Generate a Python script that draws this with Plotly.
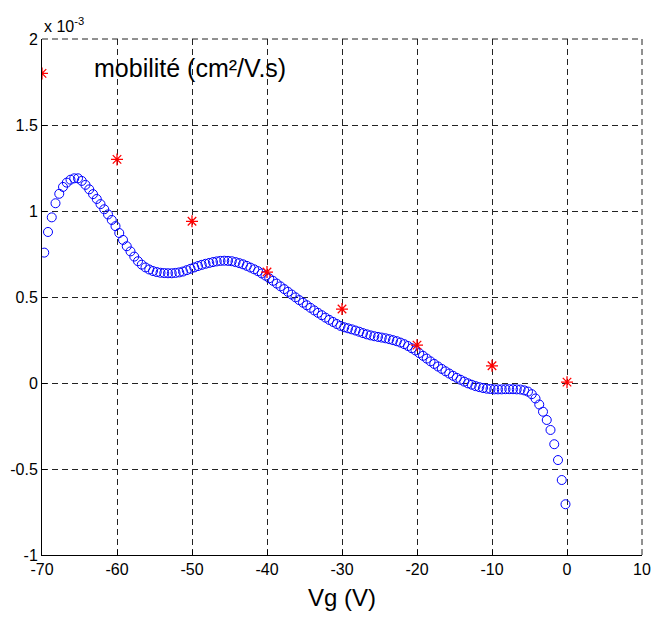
import plotly.graph_objects as go

# Vg sweep (V) for the measured mobility (circles)
vg_start = -69.7
vg_step = 0.5
mob_circles = [
    0.758, 0.878, 0.963, 1.045, 1.10, 1.14, 1.165, 1.182, 1.19, 1.19,
    1.175, 1.152, 1.126, 1.098, 1.07, 1.04, 1.01, 0.98, 0.948, 0.912,
    0.872, 0.832, 0.795, 0.765, 0.735, 0.708, 0.688, 0.672, 0.66, 0.651,
    0.645, 0.641, 0.639, 0.638, 0.638, 0.64, 0.643, 0.648, 0.656, 0.664,
    0.672, 0.68, 0.687, 0.693, 0.698, 0.703, 0.707, 0.71, 0.711, 0.71,
    0.708, 0.703, 0.697, 0.69, 0.681, 0.671, 0.661, 0.65, 0.637, 0.624,
    0.609, 0.594, 0.578, 0.562, 0.546, 0.53, 0.514, 0.498, 0.482, 0.467,
    0.452, 0.437, 0.422, 0.408, 0.394, 0.38, 0.367, 0.355, 0.343, 0.332,
    0.324, 0.318, 0.312, 0.305, 0.298, 0.29, 0.283, 0.277, 0.272, 0.268,
    0.264, 0.26, 0.255, 0.249, 0.243, 0.235, 0.226, 0.215, 0.202, 0.189,
    0.174, 0.158, 0.142, 0.126, 0.111, 0.096, 0.082, 0.068, 0.055, 0.042,
    0.03, 0.019, 0.008, -0.002, -0.01, -0.018, -0.024, -0.029, -0.033, -0.035,
    -0.037, -0.037, -0.037, -0.036, -0.036, -0.036, -0.037, -0.038, -0.043, -0.05,
    -0.065, -0.09, -0.125, -0.167, -0.215, -0.273, -0.356, -0.448, -0.564, -0.705,
]
vg_circles = [round(vg_start + vg_step * i, 2) for i in range(len(mob_circles))]

# Red star points
vg_stars = [-70, -60, -50, -40, -30, -20, -10, 0]
mob_stars = [1.80, 1.30, 0.94, 0.645, 0.43, 0.22, 0.10, 0.005]

x_ticks = [-70, -60, -50, -40, -30, -20, -10, 0, 10]
x_tick_text = ["-70", "-60", "-50", "-40", "-30", "-20", "-10", "0", "10"]
y_ticks = [-1, -0.5, 0, 0.5, 1, 1.5, 2]
y_tick_text = ["-1", "-0.5", "0", "0.5", "1", "1.5", "2"]

font = "Liberation Sans, Arial, sans-serif"
grid_color = "#222222"
grid_dash = "6px,4px"

fig = go.Figure()
fig.add_trace(go.Scatter(
    x=vg_circles, y=mob_circles, mode="markers",
    marker=dict(symbol="circle-open", size=9, color="#0000ff",
                line=dict(width=1, color="#0000ff")),
    showlegend=False, hoverinfo="x+y",
))
fig.add_trace(go.Scatter(
    x=vg_stars, y=mob_stars, mode="markers",
    marker=dict(symbol="asterisk-open", size=10, color="#ff0000",
                line=dict(width=1.3, color="#ff0000")),
    showlegend=False, hoverinfo="x+y",
))

axis_common = dict(
    showline=True, linecolor="black", linewidth=1,
    showgrid=True, gridcolor=grid_color, gridwidth=1, griddash=grid_dash,
    zeroline=False, ticks="inside", ticklen=5, tickcolor="black",
    tickfont=dict(family=font, size=16, color="black"),
    mirror=False, automargin=False,
)

fig.update_layout(
    width=652, height=617,
    margin=dict(l=42, r=10, t=39, b=62),
    paper_bgcolor="white", plot_bgcolor="white",
    xaxis=dict(range=[-70, 10], tickvals=x_ticks, ticktext=x_tick_text, **axis_common),
    yaxis=dict(range=[-1, 2], tickvals=y_ticks, ticktext=y_tick_text, **axis_common),
    shapes=[
        dict(type="line", xref="paper", yref="paper", x0=0, x1=1, y0=1, y1=1,
             line=dict(color=grid_color, width=1, dash=grid_dash), layer="above"),
        dict(type="line", xref="paper", yref="paper", x0=1, x1=1, y0=0, y1=1,
             line=dict(color=grid_color, width=1, dash=grid_dash), layer="above"),
    ],
    annotations=[
        dict(x=-63.3, y=1.83, xref="x", yref="y", text="mobilité (cm²/V.s)",
             showarrow=False, xanchor="left", yanchor="middle",
             font=dict(family=font, size=25, color="black")),
        dict(x=0.0, y=1.0, xref="paper", yref="paper",
             text="x 10<sup>-3</sup>", showarrow=False,
             xanchor="left", yanchor="bottom", yshift=2,
             font=dict(family=font, size=16, color="black")),
        dict(x=0.5, y=-0.083, xref="paper", yref="paper",
             text="Vg (V)", showarrow=False,
             xanchor="center", yanchor="middle",
             font=dict(family=font, size=24, color="black")),
    ],
)

fig.write_html("out.html", config={"displayModeBar": False},
               post_script="document.body.style.margin='0';")
